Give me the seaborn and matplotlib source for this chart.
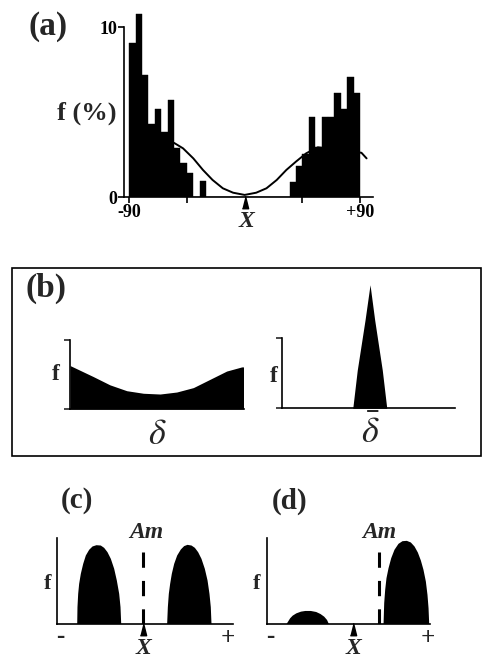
import numpy as np
import pandas as pd
import seaborn as sns
import matplotlib.pyplot as plt
from matplotlib.patches import Rectangle
from matplotlib.transforms import ScaledTranslation

# ---- (a) histogram of angles, 5 deg bins, % of cells ----
a_bin_left = [-90, -85, -80, -75, -70, -65, -60, -55, -50, -45, -35,
              35, 40, 45, 50, 55, 60, 65, 70, 75, 80, 85]
a_pct = [9.1, 10.8, 7.2, 4.3, 5.2, 3.85, 5.7, 2.9, 2.0, 1.45, 0.95,
         0.92, 1.86, 2.55, 4.7, 2.98, 4.75, 4.75, 6.14, 5.2, 7.1, 6.14]
a_fit_angle = [-55, -48, -40, -32.5, -25, -17, -9, 0, 9, 17, 25, 32.5, 40, 48, 57, 91, 95]
a_fit_pct = [3.2, 2.88, 2.29, 1.61, 1.02, 0.53, 0.27, 0.14, 0.27, 0.53, 1.02, 1.61,
             2.1, 2.59, 2.94, 2.62, 2.29]

# ---- (b) sketches (x, f as fraction of the small axes) ----
b1_x = [0, 0.134, 0.23, 0.327, 0.423, 0.519, 0.615, 0.711, 0.807, 0.903, 0.99, 1.0]
b1_f = [0.63, 0.47, 0.35, 0.265, 0.228, 0.217, 0.246, 0.31, 0.43, 0.55, 0.61, 0.61]
b2_x = [0.408, 0.434, 0.479, 0.508, 0.535, 0.579, 0.605]
b2_f = [0, 0.54, 1.25, 1.75, 1.25, 0.54, 0]

# ---- (c) two symmetric groups ----
c1_x = [-0.776, -0.773, -0.765, -0.754, -0.735, -0.708, -0.678, -0.640, -0.602, -0.557,
        -0.508, -0.470, -0.432, -0.394, -0.356, -0.326, -0.299, -0.284, -0.276]
c1_f = [0, 0.198, 0.354, 0.471, 0.589, 0.706, 0.804, 0.871, 0.910, 0.925,
        0.921, 0.894, 0.843, 0.765, 0.648, 0.511, 0.354, 0.198, 0]
c2_x = [0.246, 0.254, 0.265, 0.280, 0.299, 0.326, 0.360, 0.402, 0.439, 0.477,
        0.523, 0.561, 0.598, 0.636, 0.674, 0.705, 0.727, 0.742, 0.750]
c2_f = [0, 0.198, 0.354, 0.471, 0.589, 0.706, 0.804, 0.875, 0.914, 0.929,
        0.921, 0.894, 0.843, 0.765, 0.648, 0.511, 0.354, 0.198, 0]
c_am = -0.02
c_X = -0.02

# ---- (d) asymmetric groups ----
d1_x = [-0.763, -0.745, -0.719, -0.688, -0.643, -0.586, -0.533, -0.466, -0.400,
        -0.347, -0.302, -0.267, -0.245]
d1_f = [0, 0.027, 0.067, 0.098, 0.125, 0.145, 0.153, 0.153, 0.141, 0.117, 0.086, 0.047, 0]
d2_x = [0.425, 0.433, 0.445, 0.461, 0.486, 0.519, 0.559, 0.608, 0.657, 0.710,
        0.759, 0.804, 0.845, 0.882, 0.914, 0.943, 0.963, 0.976, 0.984]
d2_f = [0, 0.245, 0.401, 0.538, 0.655, 0.773, 0.871, 0.941, 0.972, 0.976,
        0.957, 0.910, 0.839, 0.745, 0.636, 0.499, 0.342, 0.186, 0]
d_am = 0.376
d_X = 0.06

sns.set_style("white")
plt.rcParams["font.family"] = ["Liberation Serif", "DejaVu Serif"]
plt.rcParams["mathtext.fontset"] = "stix"

W, H = 482, 664
fig = plt.figure(figsize=(W / 100, H / 100), dpi=100)


def px_axes(l, t, r, b):
    return fig.add_axes([l / W, 1 - b / H, (r - l) / W, (b - t) / H])


def ftxt(x, y, s, **kw):
    kw.setdefault("ha", "center")
    kw.setdefault("va", "center")
    fig.text(x / W, 1 - y / H, s, **kw)


arrow_marker = [(-1, -2), (1, -2), (0, 2)]


def x_arrow(ax, xpos):
    off = ScaledTranslation(0, -5 / 100, fig.dpi_scale_trans)
    ax.plot([xpos], [0], marker=arrow_marker, ms=9, color="black",
            clip_on=False, transform=ax.transData + off)


def style_axes(ax):
    sns.despine(ax=ax)
    for s in ["left", "bottom"]:
        ax.spines[s].set_linewidth(1.2)
        ax.spines[s].set_color("black")


# ===== (a) =====
ax = px_axes(124, 1.8, 373, 197.3)
hist_df = pd.DataFrame({"angle": np.array(a_bin_left) + 2.5, "pct": a_pct})
sns.histplot(data=hist_df, x="angle", weights="pct", binwidth=5, binrange=(-90, 90),
             color="black", edgecolor="black", linewidth=0.3, alpha=1, ax=ax)
sns.lineplot(x=a_fit_angle, y=a_fit_pct, color="black", lw=1.4, ax=ax, zorder=5)
ax.set_xlim(-94, 100)
ax.set_ylim(0, 11.5)
style_axes(ax)
ax.spines["left"].set_bounds(0, 10)
ax.set_xticks([-90, -45, 45, 90])
ax.set_xticklabels(["-90", "", "", "+90"])
ax.set_yticks([0, 10])
ax.set_yticklabels(["0", "10"])
ax.tick_params(direction="out", length=4, width=1.2, labelsize=13, pad=1,
               left=True, bottom=True, colors="black")
for lbl in ax.get_xticklabels() + ax.get_yticklabels():
    lbl.set_fontweight("bold")
ax.set_xlabel("")
ax.set_ylabel("")
x_arrow(ax, 0)
ftxt(48, 27, "(a)", fontsize=24, fontweight="bold")
ftxt(87, 113, "f (%)", fontsize=19, fontweight="bold")
ftxt(246, 222, "X", fontsize=17, fontweight="bold", style="italic")

# ===== (b) =====
fig.patches.append(Rectangle((12 / W, 1 - 456 / H), (481 - 12) / W, (456 - 268.3) / H,
                             transform=fig.transFigure, fill=False, lw=1.2, ec="black"))
for (l, t, r, b), xs, fs in [((70, 340, 243.5, 409), b1_x, b1_f),
                             ((282.3, 337.7, 455, 408.3), b2_x, b2_f)]:
    ax = px_axes(l, t, r, b)
    ax.fill_between(xs, fs, 0, color="black", lw=0, clip_on=False)
    ax.set_xlim(0, 1)
    ax.set_ylim(0, 1)
    style_axes(ax)
    ax.set_xticks([])
    ax.set_yticks([0, 1])
    ax.set_yticklabels([])
    ax.tick_params(axis="y", direction="out", length=4, width=1.2, left=True)
ftxt(46, 288, "(b)", fontsize=24, fontweight="bold")
ftxt(56, 375, "f", fontsize=17, fontweight="bold")
ftxt(274, 377, "f", fontsize=17, fontweight="bold")
ftxt(157, 435, r"$\delta$", fontsize=26)
ftxt(370, 433, r"$\bar{\delta}$", fontsize=26)

# ===== (c) and (d) =====
panels = [
    ((57, 538.3, 233, 623.5), [(c1_x, c1_f), (c2_x, c2_f)], c_am, c_X, "(c)",
     (77, 146, 48, 60, 228, 143.5)),
    ((266.7, 538.3, 430, 623.5), [(d1_x, d1_f), (d2_x, d2_f)], d_am, d_X, "(d)",
     (290, 379, 257, 270, 428, 353)),
]
for rect, bumps, am, xm, tag, (tx, amx, fx, mx, px, xx) in panels:
    ax = px_axes(*rect)
    for xs, fs in bumps:
        ax.fill_between(xs, fs, 0, color="black", lw=0)
    ax.plot([am, am], [0.84, 0], color="black", lw=2.2, ls=(0, (5, 4.3)))
    ax.set_xlim(-1, 1)
    ax.set_ylim(0, 1)
    style_axes(ax)
    ax.set_xticks([])
    ax.set_yticks([])
    x_arrow(ax, xm)
    ftxt(tx, 501, tag, fontsize=21, fontweight="bold")
    ftxt(amx, 533, "Am", fontsize=17, fontweight="bold", style="italic")
    ftxt(fx, 584, "f", fontsize=16, fontweight="bold")
    ftxt(mx, 636, "-", fontsize=18, fontweight="bold")
    ftxt(px, 638, "+", fontsize=18, fontweight="bold")
    ftxt(xx, 649, "X", fontsize=17, fontweight="bold", style="italic")

fig.savefig("out.png", dpi=100)
